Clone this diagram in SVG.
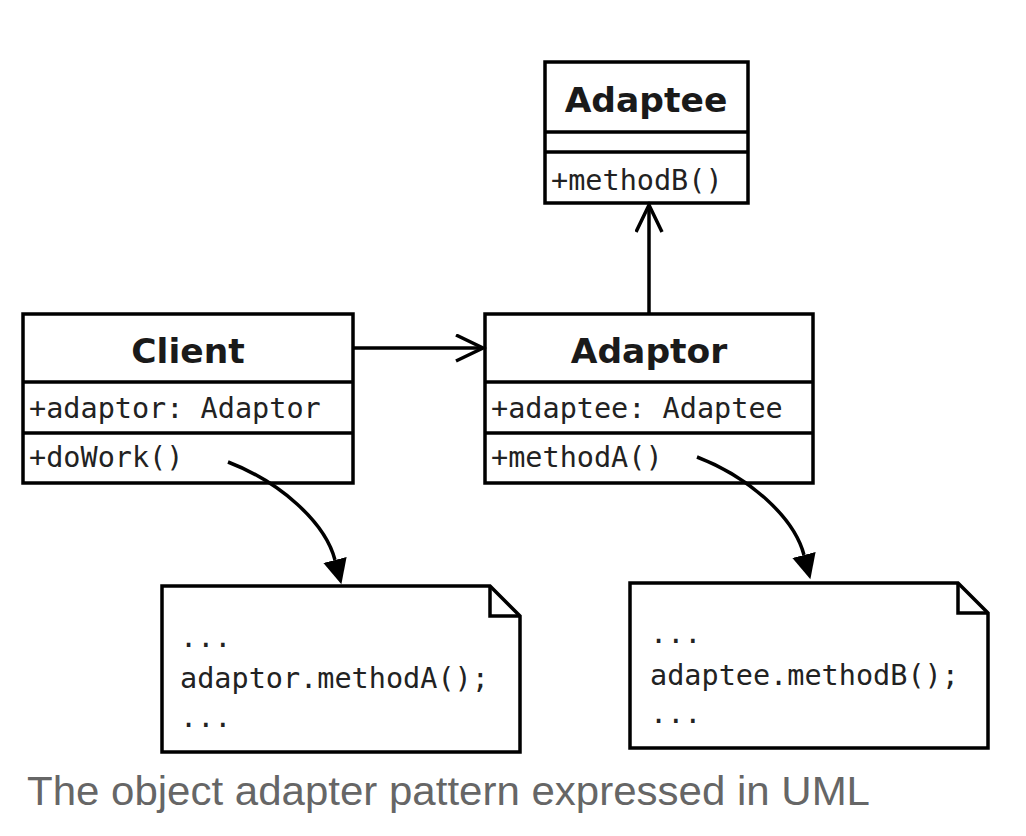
<svg xmlns="http://www.w3.org/2000/svg" width="1026" height="836" viewBox="0 0 1026 836">
  <style>
    .box { fill: #ffffff; stroke: #000000; stroke-width: 3.5; }
    .sep { stroke: #000000; stroke-width: 3.5; fill: none; }
    .title { font-family: "DejaVu Sans", "Liberation Sans", sans-serif; font-weight: bold; font-size: 34.5px; fill: #1a1a1a; text-anchor: middle; }
    .mono { font-family: "DejaVu Sans Mono", "Liberation Mono", monospace; font-size: 28.5px; fill: #222222; }
    .conn { stroke: #000000; stroke-width: 3.5; fill: none; }
    .caption { font-family: "Liberation Sans", Arial, sans-serif; font-size: 40px; fill: #666666; }
  </style>
  <defs>
    <marker id="open" markerUnits="userSpaceOnUse" markerWidth="40" markerHeight="40" refX="28" refY="14" orient="auto" viewBox="0 0 40 40">
      <path d="M1,1 L28,14 L1,27" fill="none" stroke="#000" stroke-width="3.5"/>
    </marker>
    <marker id="filled" markerUnits="userSpaceOnUse" markerWidth="30" markerHeight="30" refX="0" refY="12" orient="auto" viewBox="0 0 30 24">
      <path d="M0,0 L25,12 L0,24 z" fill="#000"/>
    </marker>
  </defs>
  <rect x="0" y="0" width="1026" height="836" fill="#ffffff"/>

  <g id="adaptee">
    <rect class="box" x="545" y="62" width="203" height="141"/>
    <line class="sep" x1="545" y1="132" x2="748" y2="132"/>
    <line class="sep" x1="545" y1="152" x2="748" y2="152"/>
    <text class="title" x="646" y="112">Adaptee</text>
    <text class="mono" x="551" y="190">+methodB()</text>
  </g>

  <g id="client">
    <rect class="box" x="23" y="314" width="330" height="169"/>
    <line class="sep" x1="23" y1="382" x2="353" y2="382"/>
    <line class="sep" x1="23" y1="433" x2="353" y2="433"/>
    <text class="title" x="188" y="363">Client</text>
    <text class="mono" x="29" y="418">+adaptor: Adaptor</text>
    <text class="mono" x="29" y="467">+doWork()</text>
  </g>

  <g id="adaptor">
    <rect class="box" x="485" y="314" width="328" height="169"/>
    <line class="sep" x1="485" y1="382" x2="813" y2="382"/>
    <line class="sep" x1="485" y1="433" x2="813" y2="433"/>
    <text class="title" x="649" y="363">Adaptor</text>
    <text class="mono" x="491" y="418">+adaptee: Adaptee</text>
    <text class="mono" x="491" y="467">+methodA()</text>
  </g>

  <g id="note-client">
    <path class="box" d="M162,586 L490,586 L520,616 L520,752 L162,752 Z"/>
    <path class="sep" d="M490,586 L490,616 L520,616" stroke-width="2"/>
    <text class="mono" x="180" y="647">...</text>
    <text class="mono" x="180" y="688">adaptor.methodA();</text>
    <text class="mono" x="180" y="727">...</text>
  </g>

  <g id="note-adaptor">
    <path class="box" d="M630,583 L958,583 L988,613 L988,748 L630,748 Z"/>
    <path class="sep" d="M958,583 L958,613 L988,613" stroke-width="2"/>
    <text class="mono" x="650" y="643">...</text>
    <text class="mono" x="650" y="685">adaptee.methodB();</text>
    <text class="mono" x="650" y="723">...</text>
  </g>

  <g id="connectors">
    <line class="conn" x1="353" y1="348" x2="483" y2="348" marker-end="url(#open)"/>
    <line class="conn" x1="649" y1="314" x2="649" y2="205" marker-end="url(#open)"/>
    <path class="conn" d="M228,462 C280,482 325,522 335,560" marker-end="url(#filled)"/>
    <path class="conn" d="M697,457 C749,477 794,517 804,555" marker-end="url(#filled)"/>
  </g>

  <text class="caption" x="27" y="805" textLength="843" lengthAdjust="spacingAndGlyphs">The object adapter pattern expressed in UML</text>
</svg>
